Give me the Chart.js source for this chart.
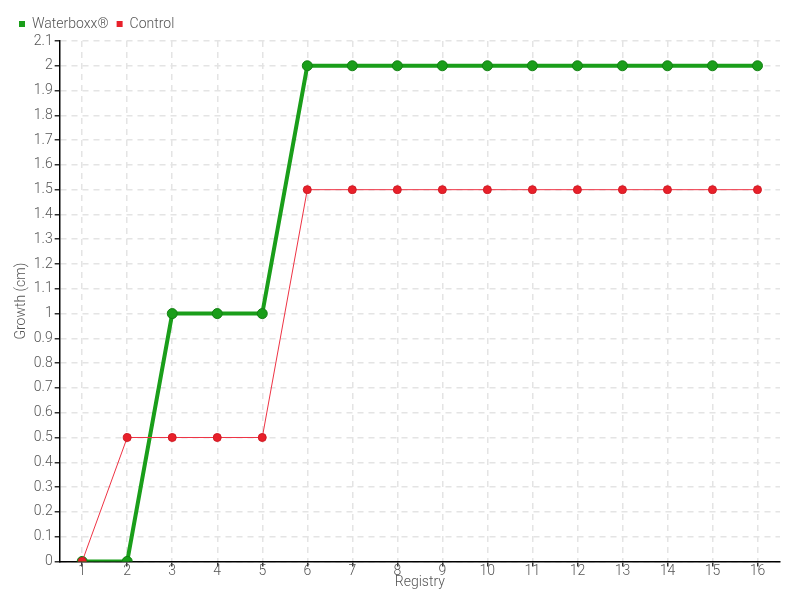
<!DOCTYPE html>
<html>
<head>
<meta charset="utf-8">
<script src="https://cdn.jsdelivr.net/npm/chart.js@4"></script>
<style>
  html, body { margin: 0; padding: 0; background: #fff; }
  #wrap { width: 800px; height: 600px; }
</style>
</head>
<body>
<div id="wrap"><canvas id="chart"></canvas></div>
<script>
const registries = ['1', '2', '3', '4', '5', '6', '7', '8', '9', '10', '11', '12', '13', '14', '15', '16'];
const waterboxx = [0, 0, 1, 1, 1, 2, 2, 2, 2, 2, 2, 2, 2, 2, 2, 2];
const control = [0, 0.5, 0.5, 0.5, 0.5, 1.5, 1.5, 1.5, 1.5, 1.5, 1.5, 1.5, 1.5, 1.5, 1.5, 1.5];

Chart.defaults.font.family = 'Roboto, sans-serif';
Chart.defaults.font.weight = 300;
Chart.defaults.color = '#555';

new Chart(document.getElementById('chart'), {
  type: 'line',
  data: {
    labels: registries,
    datasets: [{
      label: 'Waterboxx®',
      data: waterboxx,
      borderColor: '#1a9e1a',
      backgroundColor: '#1a9e1a',
      pointBorderColor: '#138013',
      pointBackgroundColor: '#1a9e1a',
      borderWidth: 4,
      pointRadius: 5,
      pointBorderWidth: 1,
      tension: 0,
      order: 1
    }, {
      label: 'Control',
      data: control,
      borderColor: '#ee3344',
      backgroundColor: '#e8202a',
      pointBorderColor: '#d01a24',
      pointBackgroundColor: '#e8202a',
      borderWidth: 1,
      pointRadius: 4,
      pointBorderWidth: 1,
      tension: 0,
      order: 0
    }]
  },
  options: {
    responsive: true,
    maintainAspectRatio: false,
    animation: false,
    layout: { padding: { left: 11, right: 20, top: 9, bottom: 8 } },
    plugins: {
      legend: {
        align: 'start',
        labels: {
          boxWidth: 6,
          boxHeight: 6,
          padding: 8,
          font: { size: 14 },
          color: '#555',
          sort: (a, b) => a.datasetIndex - b.datasetIndex,
          generateLabels: (chart) => {
            const items = Chart.defaults.plugins.legend.labels.generateLabels(chart);
            items.forEach((it) => { it.lineWidth = 0; });
            return items;
          }
        }
      },
      tooltip: { enabled: false }
    },
    scales: {
      x: {
        offset: true,
        grid: {
          color: '#e4e4e4',
          lineWidth: 1.5,
          tickColor: '#333',
          tickLength: 5,
          tickBorderDash: []
        },
        border: { color: '#000', width: 1.5, dash: [6, 5] },
        ticks: { font: { size: 14 }, color: '#555', padding: -3 },
        title: { display: true, text: 'Registry', font: { size: 14 }, color: '#555', padding: { top: -3, bottom: 1 } }
      },
      y: {
        min: 0,
        max: 2.1,
        ticks: {
          stepSize: 0.1,
          font: { size: 14 },
          color: '#555',
          padding: 2,
          callback: (v) => Math.round(v * 10) / 10
        },
        grid: {
          color: '#e4e4e4',
          lineWidth: 1.5,
          tickColor: '#333',
          tickLength: 5,
          tickBorderDash: []
        },
        border: { color: '#000', width: 1.5, dash: [6, 5] },
        title: { display: true, text: 'Growth (cm)', font: { size: 14 }, color: '#555', padding: 2 }
      }
    }
  }
});
</script>
</body>
</html>
